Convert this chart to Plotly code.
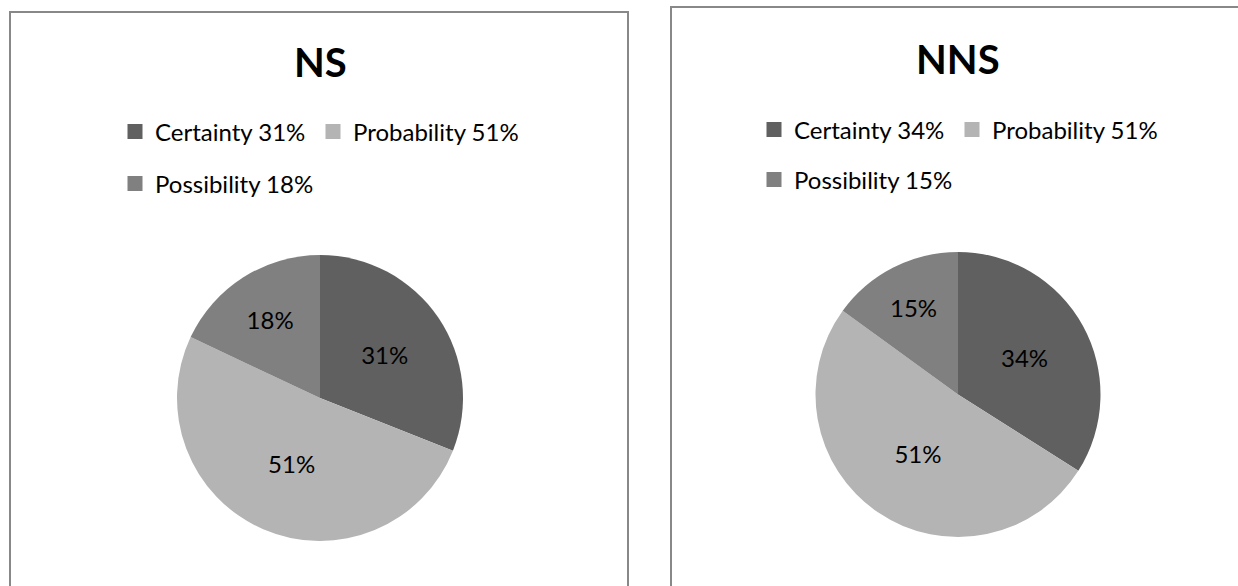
import plotly.graph_objects as go

categories = ["Certainty", "Probability", "Possibility"]
ns_values = [31, 51, 18]
nns_values = [34, 51, 15]
colors = ["#606060", "#b4b4b4", "#808080"]
titles = ["NS", "NNS"]

W, H = 1238, 586
FONT = "Lato"

def px(x):
    return x / W

def py(y):
    return 1 - y / H

fig = go.Figure()

# pies
pie_domains = [
    dict(x=[px(177), px(463)], y=[py(541), py(255)]),
    dict(x=[px(815), px(1101)], y=[py(537), py(252)]),
]
for vals, dom in zip([ns_values, nns_values], pie_domains):
    fig.add_trace(go.Pie(
        labels=categories, values=vals, domain=dom,
        sort=False, direction="clockwise", rotation=0,
        marker=dict(colors=colors, line=dict(width=0)),
        texttemplate="%{value}%", textposition="inside",
        insidetextorientation="horizontal",
        textfont=dict(family=FONT, size=24, color="#000000"),
        showlegend=False, hoverinfo="label+value",
    ))

# legend entries (rows: first two categories, then the third)
legend_names = [["legend", "legend2"], ["legend3", "legend4"]]
entry_widths = [153, 185, 185]
for vals, (l1, l2) in zip([ns_values, nns_values], legend_names):
    for i, (cat, v, c) in enumerate(zip(categories, vals, colors)):
        fig.add_trace(go.Scatter(
            x=[None], y=[None], mode="markers",
            marker=dict(symbol="square", size=15, color=c),
            name=f"{cat} {v}%", legend=l1 if i < 2 else l2,
            legendwidth=entry_widths[i],
            showlegend=True, hoverinfo="skip",
        ))

leg_common = dict(orientation="h", xanchor="left", yanchor="middle",
                  font=dict(family=FONT, size=24, color="#000000"),
                  bgcolor="rgba(0,0,0,0)", borderwidth=0,
                  entrywidthmode="pixels")

fig.update_layout(
    width=W, height=H,
    margin=dict(l=0, r=0, t=0, b=0),
    paper_bgcolor="white", plot_bgcolor="white",
    uniformtext=dict(minsize=24, mode="show"),
    xaxis=dict(visible=False), yaxis=dict(visible=False),
    legend=dict(x=px(115), y=py(132), **leg_common),
    legend2=dict(x=px(115), y=py(184), **leg_common),
    legend3=dict(x=px(754), y=py(130), **leg_common),
    legend4=dict(x=px(754), y=py(180), **leg_common),
    shapes=[
        dict(type="rect", xref="paper", yref="paper",
             x0=px(10), x1=px(628), y0=-0.05, y1=py(12),
             line=dict(color="#888888", width=2), fillcolor="rgba(0,0,0,0)"),
        dict(type="rect", xref="paper", yref="paper",
             x0=px(671), x1=1.05, y0=-0.05, y1=py(7),
             line=dict(color="#888888", width=2), fillcolor="rgba(0,0,0,0)"),
    ],
    annotations=[
        dict(text=f"<b>{titles[0]}</b>", x=px(320), y=py(62), xref="paper", yref="paper",
             showarrow=False, xanchor="center", yanchor="middle",
             font=dict(family=FONT, size=40, color="#000000")),
        dict(text=f"<b>{titles[1]}</b>", x=px(958), y=py(59), xref="paper", yref="paper",
             showarrow=False, xanchor="center", yanchor="middle",
             font=dict(family=FONT, size=40, color="#000000")),
    ],
)

fig.write_html("out.html", config={"displayModeBar": False},
               post_script="document.body.style.margin='0px';")
